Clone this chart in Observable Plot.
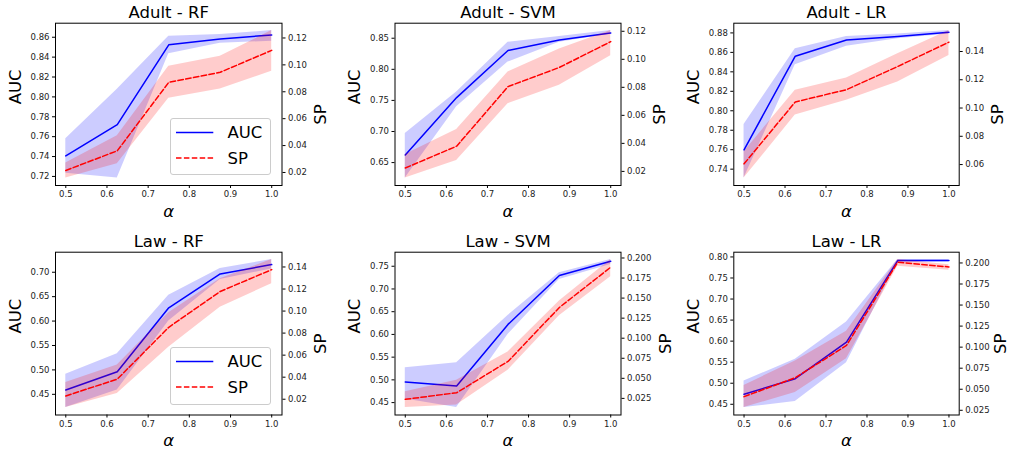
<!DOCTYPE html>
<html><head><meta charset="utf-8">
<script src="https://cdn.jsdelivr.net/npm/d3@7"></script>
<script src="https://cdn.jsdelivr.net/npm/@observablehq/plot@0.6"></script>
<style>
body{margin:0;background:#fff;font-family:"DejaVu Sans",sans-serif;}
#fig{position:relative;width:1009px;height:451px;overflow:hidden;background:#fff;}
.panel{position:absolute;}
.layer{position:absolute;left:0;top:0;}
.legend{position:absolute;background:rgba(255,255,255,0.8);border:1px solid #cccccc;border-radius:3px;box-sizing:border-box;}
</style></head><body><div id="fig"></div>
<script>
// ---------- data ----------
const alphas = [0.5, 0.625, 0.75, 0.875, 1.0];
const xTicks = [0.5, 0.6, 0.7, 0.8, 0.9, 1.0];
const seriesNames = ["AUC", "SP"];
const titles = ["Adult - RF", "Adult - SVM", "Adult - LR", "Law - RF", "Law - SVM", "Law - LR"];

// Adult - RF
const adultRF_auc   = [0.7406, 0.7721, 0.8524, 0.8583, 0.8623];
const adultRF_aucLo = [0.7233, 0.7183, 0.8434, 0.8540, 0.8560];
const adultRF_aucHi = [0.7578, 0.8076, 0.8610, 0.8627, 0.8667];
const adultRF_sp    = [0.0215, 0.0361, 0.0870, 0.0945, 0.1108];
const adultRF_spLo  = [0.0158, 0.0265, 0.0751, 0.0821, 0.0952];
const adultRF_spHi  = [0.0270, 0.0473, 0.0989, 0.1064, 0.1255];
const adultRF_aucTicks = [0.72, 0.74, 0.76, 0.78, 0.80, 0.82, 0.84, 0.86];
const adultRF_spTicks  = [0.02, 0.04, 0.06, 0.08, 0.10, 0.12];

// Adult - SVM
const adultSVM_auc   = [0.6623, 0.7545, 0.8303, 0.8473, 0.8585];
const adultSVM_aucLo = [0.6250, 0.7396, 0.8116, 0.8436, 0.8569];
const adultSVM_aucHi = [0.6969, 0.7636, 0.8436, 0.8527, 0.8623];
const adultSVM_sp    = [0.0224, 0.0380, 0.0805, 0.0942, 0.1126];
const adultSVM_spLo  = [0.0152, 0.0277, 0.0683, 0.0815, 0.1025];
const adultSVM_spHi  = [0.0320, 0.0499, 0.0910, 0.1073, 0.1205];
const adultSVM_aucTicks = [0.65, 0.70, 0.75, 0.80, 0.85];
const adultSVM_spTicks  = [0.02, 0.04, 0.06, 0.08, 0.10, 0.12];

// Adult - LR
const adultLR_auc   = [0.7598, 0.8561, 0.8728, 0.8762, 0.8807];
const adultLR_aucLo = [0.7308, 0.8473, 0.8663, 0.8739, 0.8790];
const adultLR_aucHi = [0.7860, 0.8636, 0.8762, 0.8790, 0.8824];
const adultLR_sp    = [0.0605, 0.1043, 0.1130, 0.1294, 0.1466];
const adultLR_spLo  = [0.0504, 0.0950, 0.1055, 0.1184, 0.1372];
const adultLR_spHi  = [0.0691, 0.1126, 0.1212, 0.1384, 0.1548];
const adultLR_aucTicks = [0.74, 0.76, 0.78, 0.80, 0.82, 0.84, 0.86, 0.88];
const adultLR_spTicks  = [0.06, 0.08, 0.10, 0.12, 0.14];

// Law - RF
const lawRF_auc   = [0.4589, 0.4963, 0.6271, 0.6966, 0.7157];
const lawRF_aucLo = [0.4228, 0.4589, 0.5999, 0.6850, 0.7068];
const lawRF_aucHi = [0.4909, 0.5331, 0.6530, 0.7075, 0.7259];
const lawRF_sp    = [0.0230, 0.0382, 0.0853, 0.1178, 0.1376];
const lawRF_spLo  = [0.0124, 0.0252, 0.0671, 0.1035, 0.1248];
const lawRF_spHi  = [0.0352, 0.0510, 0.0984, 0.1294, 0.1467];
const lawRF_aucTicks = [0.45, 0.50, 0.55, 0.60, 0.65, 0.70];
const lawRF_spTicks  = [0.02, 0.04, 0.06, 0.08, 0.10, 0.12, 0.14];

// Law - SVM
const lawSVM_auc   = [0.4954, 0.4866, 0.6220, 0.7295, 0.7610];
const lawSVM_aucLo = [0.4580, 0.4390, 0.6000, 0.7207, 0.7537];
const lawSVM_aucHi = [0.5268, 0.5378, 0.6417, 0.7354, 0.7646];
const lawSVM_sp    = [0.0238, 0.0320, 0.0711, 0.1383, 0.1885];
const lawSVM_spLo  = [0.0135, 0.0168, 0.0600, 0.1280, 0.1767];
const lawSVM_spHi  = [0.0332, 0.0477, 0.0827, 0.1465, 0.1980];
const lawSVM_aucTicks = [0.45, 0.50, 0.55, 0.60, 0.65, 0.70, 0.75];
const lawSVM_spTicks  = [0.025, 0.050, 0.075, 0.100, 0.125, 0.150, 0.175, 0.200];

// Law - LR
const lawLR_auc   = [0.4737, 0.5108, 0.5977, 0.7913, 0.7913];
const lawLR_aucLo = [0.4421, 0.4565, 0.5488, 0.7874, 0.7880];
const lawLR_aucHi = [0.5053, 0.5567, 0.6452, 0.7937, 0.7937];
const lawLR_sp    = [0.0412, 0.0637, 0.1020, 0.2008, 0.1953];
const lawLR_spLo  = [0.0282, 0.0460, 0.0862, 0.1960, 0.1913];
const lawLR_spHi  = [0.0546, 0.0835, 0.1190, 0.2040, 0.1980];
const lawLR_aucTicks = [0.45, 0.50, 0.55, 0.60, 0.65, 0.70, 0.75, 0.80];
const lawLR_spTicks  = [0.025, 0.050, 0.075, 0.100, 0.125, 0.150, 0.175, 0.200];

// ---------- layout ----------
const cols = [
  {x0: 0,   w: 336, ml: 55,   mr: 54.5},
  {x0: 336, w: 336, ml: 58.5, mr: 51.5},
  {x0: 672, w: 337, ml: 61.3, mr: 50.3}
];
const rowsL = [
  {y0: 0,   h: 225, mt: 22.7, mb: 40},
  {y0: 225, h: 226, mt: 26.7, mb: 36.5}
];

const panels = [
  {auc: adultRF_auc, lo: adultRF_aucLo, hi: adultRF_aucHi, sp: adultRF_sp, slo: adultRF_spLo, shi: adultRF_spHi, at: adultRF_aucTicks, st: adultRF_spTicks, sf: ".2f", legend: true, spDx: 38.6},
  {auc: adultSVM_auc, lo: adultSVM_aucLo, hi: adultSVM_aucHi, sp: adultSVM_sp, slo: adultSVM_spLo, shi: adultSVM_spHi, at: adultSVM_aucTicks, st: adultSVM_spTicks, sf: ".2f", legend: false, spDx: 38.6},
  {auc: adultLR_auc, lo: adultLR_aucLo, hi: adultLR_aucHi, sp: adultLR_sp, slo: adultLR_spLo, shi: adultLR_spHi, at: adultLR_aucTicks, st: adultLR_spTicks, sf: ".2f", legend: false, spDx: 38.6},
  {auc: lawRF_auc, lo: lawRF_aucLo, hi: lawRF_aucHi, sp: lawRF_sp, slo: lawRF_spLo, shi: lawRF_spHi, at: lawRF_aucTicks, st: lawRF_spTicks, sf: ".2f", legend: true, spDx: 38.6},
  {auc: lawSVM_auc, lo: lawSVM_aucLo, hi: lawSVM_aucHi, sp: lawSVM_sp, slo: lawSVM_spLo, shi: lawSVM_spHi, at: lawSVM_aucTicks, st: lawSVM_spTicks, sf: ".3f", legend: false, spDx: 44.5},
  {auc: lawLR_auc, lo: lawLR_aucLo, hi: lawLR_aucHi, sp: lawLR_sp, slo: lawLR_spLo, shi: lawLR_spHi, at: lawLR_aucTicks, st: lawLR_spTicks, sf: ".3f", legend: false, spDx: 41.5}
];

const FONT = "DejaVu Sans";
const xDomain = [0.475, 1.025]; // matplotlib 5% margins around [0.5, 1.0]
function padded(arrs) {
  const all = arrs.flat();
  const [a, b] = d3.extent(all);
  const m = (b - a) * 0.05;
  return [a - m, b + m];
}

const fig = document.getElementById("fig");

panels.forEach((p, i) => {
  const c = cols[i % 3], r = rowsL[Math.floor(i / 3)];
  const data = alphas.map((a, k) => ({a, auc: p.auc[k], lo: p.lo[k], hi: p.hi[k], sp: p.sp[k], slo: p.slo[k], shi: p.shi[k]}));
  const div = document.createElement("div");
  div.className = "panel";
  div.style.left = c.x0 + "px"; div.style.top = r.y0 + "px";
  div.style.width = c.w + "px"; div.style.height = r.h + "px";
  fig.appendChild(div);

  const common = {
    width: c.w, height: r.h,
    marginLeft: c.ml, marginRight: c.mr, marginTop: r.mt, marginBottom: r.mb,
    style: {fontFamily: FONT, color: "#222", background: "transparent", overflow: "visible", maxWidth: "none"}
  };

  const aucPlot = Plot.plot({
    ...common,
    x: {domain: xDomain},
    y: {domain: padded([p.auc, p.lo, p.hi])},
    marks: [
      Plot.areaY(data, {x: "a", y1: "lo", y2: "hi", fill: "blue", fillOpacity: 0.2}),
      Plot.line(data, {x: "a", y: "auc", stroke: "blue", strokeWidth: 1.5}),
      Plot.axisX({ticks: xTicks, tickFormat: d3.format(".1f"), tickSize: 3, tickPadding: 2.5, fontSize: 8.5, label: null, stroke: "#000"}),
      Plot.axisY({anchor: "left", ticks: p.at, tickFormat: d3.format(".2f"), tickSize: 3, tickPadding: 3, fontSize: 8.5, label: null, stroke: "#000"}),
      Plot.text([seriesNames[0]], {frameAnchor: "left", dx: -40, rotate: -90, fontSize: 16.5, lineAnchor: "middle", fill: "#000"}),
      Plot.text([titles[i]], {frameAnchor: "top", dy: -5.5, lineAnchor: "bottom", fontSize: 16.5, fill: "#000"}),
      Plot.text(["α"], {frameAnchor: "bottom", dy: 31, lineAnchor: "bottom", fontSize: 16.5, fontStyle: "italic", fill: "#000"})
    ]
  });
  aucPlot.classList.add("layer");
  div.appendChild(aucPlot);

  const spPlot = Plot.plot({
    ...common,
    x: {domain: xDomain, axis: null},
    y: {domain: padded([p.sp, p.slo, p.shi])},
    marks: [
      Plot.areaY(data, {x: "a", y1: "slo", y2: "shi", fill: "red", fillOpacity: 0.2}),
      Plot.line(data, {x: "a", y: "sp", stroke: "red", strokeWidth: 1.5, strokeDasharray: "5.5,2.4"}),
      Plot.frame({stroke: "#000", strokeWidth: 1}),
      Plot.axisY({anchor: "right", ticks: p.st, tickFormat: d3.format(p.sf), tickSize: 3, tickPadding: 3, fontSize: 8.5, label: null, stroke: "#000"}),
      Plot.text([seriesNames[1]], {frameAnchor: "right", dx: p.spDx, rotate: -90, fontSize: 16.5, lineAnchor: "middle", fill: "#000"})
    ]
  });
  spPlot.classList.add("layer");
  div.appendChild(spPlot);

  if (p.legend) {
    const lw = 101.7, lh = 57.7;
    const frameRight = c.w - c.mr, frameBottom = r.h - r.mb;
    const lg = document.createElement("div");
    lg.className = "legend";
    lg.style.left = (frameRight - 10 - lw) + "px";
    lg.style.top = (frameBottom - 9.5 - lh) + "px";
    lg.style.width = lw + "px"; lg.style.height = lh + "px";
    const styles = [{stroke: "blue", dash: "none"}, {stroke: "red", dash: "5.5,2.4"}];
    let svg = `<svg width="${lw}" height="${lh}" style="position:absolute;left:-1px;top:-1px;overflow:visible" font-family="${FONT}">`;
    seriesNames.forEach((n, k) => {
      const y = 14.4 + k * 25.6;
      svg += `<line x1="6" x2="43.3" y1="${y}" y2="${y}" stroke="${styles[k].stroke}" stroke-width="1.5" stroke-dasharray="${styles[k].dash}"/>`;
      svg += `<text x="57.5" y="${y}" dy="0.36em" font-size="16.5" fill="#000">${n}</text>`;
    });
    svg += `</svg>`;
    lg.innerHTML = svg;
    div.appendChild(lg);
  }
});
</script></body></html>
